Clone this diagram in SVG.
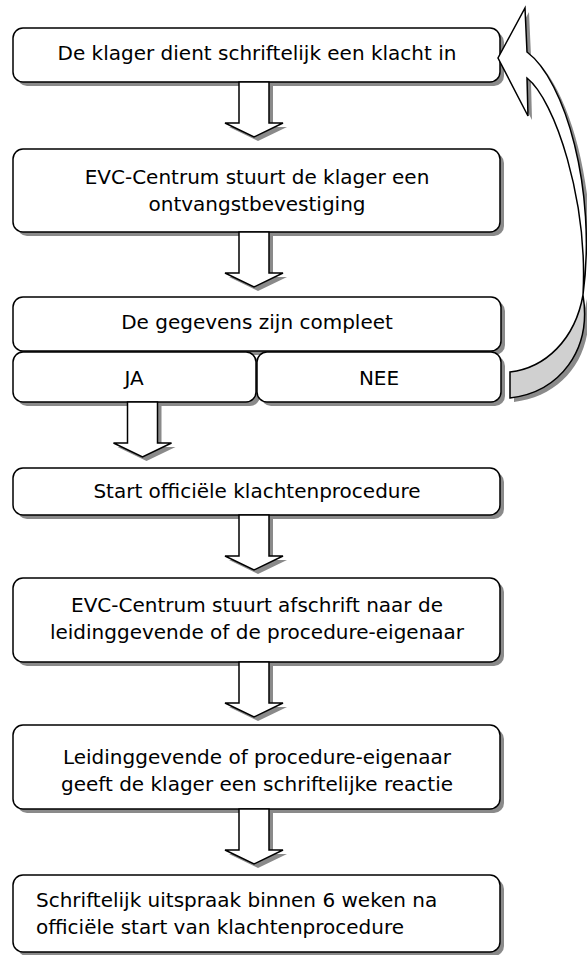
<svg xmlns="http://www.w3.org/2000/svg" width="587" height="955" viewBox="0 0 587 955">
<style>
.box{fill:#fff;stroke:#000;stroke-width:1.5}
.sh{fill:#8a8a8a;stroke:none}
.t{font-family:"DejaVu Sans",Verdana,sans-serif;font-size:20px;fill:#000;text-anchor:middle}
.tl{font-family:"DejaVu Sans",Verdana,sans-serif;font-size:20px;fill:#000;text-anchor:start}
.ar{fill:#fff;stroke:#000;stroke-width:1.5;stroke-linejoin:miter}
.back{fill:#d0d0d0;stroke:#000;stroke-width:1.5}
</style>
<defs>
<path id="blk" d="M-15,0 L15,0 L15,41 L29,41 L0,55 L-29,41 L-15,41 Z"/>
</defs>
<rect width="587" height="955" fill="#fff"/>
<g id="n1">
<rect class="sh" x="17" y="32" width="487" height="54" rx="10"/>
<rect class="box" x="13" y="28" width="487" height="54" rx="10"/>
<text class="t" x="257" y="60">De klager dient schriftelijk een klacht in</text>
</g>
<g id="n2">
<rect class="sh" x="17" y="153" width="487" height="83" rx="10"/>
<rect class="box" x="13" y="149" width="487" height="83" rx="10"/>
<text class="t" x="257" y="184">EVC-Centrum stuurt de klager een</text>
<text class="t" x="257" y="211">ontvangstbevestiging</text>
</g>
<g id="n3">
<rect class="sh" x="17" y="301" width="488" height="54" rx="10"/>
<rect class="box" x="13" y="297" width="488" height="54" rx="10"/>
<text class="t" x="257" y="329">De gegevens zijn compleet</text>
</g>
<g id="n3ja">
<rect class="sh" x="17" y="356" width="243" height="50" rx="10"/>
<rect class="box" x="13" y="352" width="243" height="50" rx="10"/>
<text class="t" x="134" y="385">JA</text>
</g>
<g id="n3nee">
<rect class="sh" x="261" y="356" width="244" height="50" rx="10"/>
<rect class="box" x="257" y="352" width="244" height="50" rx="10"/>
<text class="t" x="379" y="385">NEE</text>
</g>
<g id="n4">
<rect class="sh" x="17" y="472" width="487" height="47" rx="10"/>
<rect class="box" x="13" y="468" width="487" height="47" rx="10"/>
<text class="t" x="257" y="498">Start officiële klachtenprocedure</text>
</g>
<g id="n5">
<rect class="sh" x="17" y="582" width="487" height="84" rx="10"/>
<rect class="box" x="13" y="578" width="487" height="84" rx="10"/>
<text class="t" x="257" y="612">EVC-Centrum stuurt afschrift naar de</text>
<text class="t" x="257" y="639">leidinggevende of de procedure-eigenaar</text>
</g>
<g id="n6">
<rect class="sh" x="17" y="729" width="487" height="84" rx="10"/>
<rect class="box" x="13" y="725" width="487" height="84" rx="10"/>
<text class="t" x="257" y="764">Leidinggevende of procedure-eigenaar</text>
<text class="t" x="257" y="791">geeft de klager een schriftelijke reactie</text>
</g>
<g id="n7">
<rect class="sh" x="17" y="879" width="487" height="77" rx="10"/>
<rect class="box" x="13" y="875" width="487" height="77" rx="10"/>
<text class="tl" x="36" y="907">Schriftelijk uitspraak binnen 6 weken na</text>
<text class="tl" x="36" y="934">officiële start van klachtenprocedure</text>
</g>
<g id="connectors">
<use href="#blk" class="sh" x="258" y="86"/>
<use href="#blk" class="ar" x="254" y="82"/>
<use href="#blk" class="sh" x="258" y="236"/>
<use href="#blk" class="ar" x="254" y="232"/>
<use href="#blk" class="sh" x="146.5" y="406"/>
<use href="#blk" class="ar" x="142.5" y="402"/>
<use href="#blk" class="sh" x="258" y="519"/>
<use href="#blk" class="ar" x="254" y="515"/>
<use href="#blk" class="sh" x="258" y="666"/>
<use href="#blk" class="ar" x="254" y="662"/>
<use href="#blk" class="sh" x="258" y="813"/>
<use href="#blk" class="ar" x="254" y="809"/>
<g id="loop">
<g transform="translate(4,4)">
<path class="sh" d="M583,295 C575,340 545,368 510,372 L510,398 C560,392 592,350 583,295 Z"/>
<path class="sh" d="M527,52 C565,80 597,190 583,295 C588,200 555,100 527,78 L528,116 L498,58 L525,8 Z"/>
</g>
<path class="back" d="M583,295 C575,340 545,368 510,372 L510,398 C560,392 592,350 583,295 Z"/>
<path class="ar" d="M527,52 C565,80 597,190 583,295 C588,200 555,100 527,78 L528,116 L498,58 L525,8 Z"/>
</g>
</g>
</svg>
